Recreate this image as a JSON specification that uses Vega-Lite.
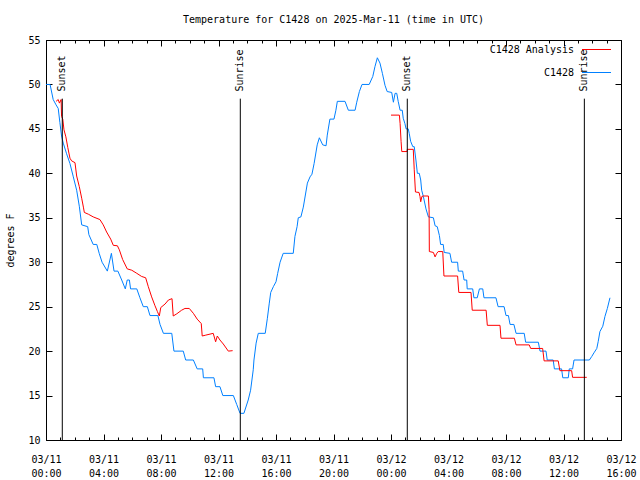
{
  "$schema": "https://vega.github.io/schema/vega-lite/v6.json",
  "width": 575,
  "height": 400,
  "autosize": {"type": "none"},
  "padding": {"left": 46, "top": 40, "right": 19, "bottom": 40},
  "background": "white",
  "title": {"text": "Temperature for C1428 on 2025-Mar-11 (time in UTC)", "font": "DejaVu Sans Mono", "fontSize": 10, "fontWeight": "normal", "offset": 10, "color": "black"},
  "config": {
    "font": "DejaVu Sans Mono",
    "view": {"stroke": "black", "strokeWidth": 1},
    "axis": {"domain": false, "grid": false, "labelFont": "DejaVu Sans Mono", "labelFontSize": 10, "labelColor": "black", "tickColor": "black", "tickWidth": 1, "titleFont": "DejaVu Sans Mono", "titleFontSize": 10, "titleFontWeight": "normal", "titleColor": "black"},
    "legend": {"labelFont": "DejaVu Sans Mono", "labelFontSize": 10, "labelColor": "black"}
  },
  "datasets": {
    "obs": [
      {"s": "C1428", "t": "2025-03-11T00:00:00Z", "v": 50}, {"s": "C1428", "t": "2025-03-11T00:17:00Z", "v": 50}, {"s": "C1428", "t": "2025-03-11T00:30:00Z", "v": 48.3}, {"s": "C1428", "t": "2025-03-11T00:42:00Z", "v": 47.7},
      {"s": "C1428", "t": "2025-03-11T00:51:00Z", "v": 47.3}, {"s": "C1428", "t": "2025-03-11T00:58:00Z", "v": 45.7}, {"s": "C1428", "t": "2025-03-11T01:05:00Z", "v": 44.2}, {"s": "C1428", "t": "2025-03-11T01:12:00Z", "v": 43.4},
      {"s": "C1428", "t": "2025-03-11T01:26:00Z", "v": 42.2}, {"s": "C1428", "t": "2025-03-11T01:40:00Z", "v": 41.1}, {"s": "C1428", "t": "2025-03-11T01:54:00Z", "v": 39.6}, {"s": "C1428", "t": "2025-03-11T02:08:00Z", "v": 38.1},
      {"s": "C1428", "t": "2025-03-11T02:19:00Z", "v": 36.3}, {"s": "C1428", "t": "2025-03-11T02:29:00Z", "v": 34.2}, {"s": "C1428", "t": "2025-03-11T02:54:00Z", "v": 34}, {"s": "C1428", "t": "2025-03-11T02:59:00Z", "v": 33.1},
      {"s": "C1428", "t": "2025-03-11T03:17:00Z", "v": 32}, {"s": "C1428", "t": "2025-03-11T03:32:00Z", "v": 32}, {"s": "C1428", "t": "2025-03-11T03:42:00Z", "v": 31}, {"s": "C1428", "t": "2025-03-11T03:54:00Z", "v": 30},
      {"s": "C1428", "t": "2025-03-11T04:16:00Z", "v": 29}, {"s": "C1428", "t": "2025-03-11T04:33:00Z", "v": 31}, {"s": "C1428", "t": "2025-03-11T04:44:00Z", "v": 29}, {"s": "C1428", "t": "2025-03-11T05:00:00Z", "v": 29},
      {"s": "C1428", "t": "2025-03-11T05:16:00Z", "v": 28}, {"s": "C1428", "t": "2025-03-11T05:31:00Z", "v": 27}, {"s": "C1428", "t": "2025-03-11T05:39:00Z", "v": 28}, {"s": "C1428", "t": "2025-03-11T05:48:00Z", "v": 28},
      {"s": "C1428", "t": "2025-03-11T05:53:00Z", "v": 27}, {"s": "C1428", "t": "2025-03-11T06:19:00Z", "v": 27}, {"s": "C1428", "t": "2025-03-11T06:32:00Z", "v": 26}, {"s": "C1428", "t": "2025-03-11T06:46:00Z", "v": 25},
      {"s": "C1428", "t": "2025-03-11T07:03:00Z", "v": 25}, {"s": "C1428", "t": "2025-03-11T07:14:00Z", "v": 24}, {"s": "C1428", "t": "2025-03-11T07:47:00Z", "v": 24}, {"s": "C1428", "t": "2025-03-11T07:56:00Z", "v": 23},
      {"s": "C1428", "t": "2025-03-11T08:10:00Z", "v": 22}, {"s": "C1428", "t": "2025-03-11T08:45:00Z", "v": 22}, {"s": "C1428", "t": "2025-03-11T08:54:00Z", "v": 20}, {"s": "C1428", "t": "2025-03-11T09:33:00Z", "v": 20},
      {"s": "C1428", "t": "2025-03-11T09:43:00Z", "v": 19}, {"s": "C1428", "t": "2025-03-11T10:15:00Z", "v": 19}, {"s": "C1428", "t": "2025-03-11T10:31:00Z", "v": 18}, {"s": "C1428", "t": "2025-03-11T10:54:00Z", "v": 18},
      {"s": "C1428", "t": "2025-03-11T10:57:00Z", "v": 17}, {"s": "C1428", "t": "2025-03-11T11:41:00Z", "v": 17}, {"s": "C1428", "t": "2025-03-11T11:48:00Z", "v": 16}, {"s": "C1428", "t": "2025-03-11T12:06:00Z", "v": 16},
      {"s": "C1428", "t": "2025-03-11T12:18:00Z", "v": 15}, {"s": "C1428", "t": "2025-03-11T13:02:00Z", "v": 15}, {"s": "C1428", "t": "2025-03-11T13:16:00Z", "v": 14}, {"s": "C1428", "t": "2025-03-11T13:30:00Z", "v": 13},
      {"s": "C1428", "t": "2025-03-11T13:46:00Z", "v": 13}, {"s": "C1428", "t": "2025-03-11T14:04:00Z", "v": 14.5}, {"s": "C1428", "t": "2025-03-11T14:14:00Z", "v": 15.6}, {"s": "C1428", "t": "2025-03-11T14:25:00Z", "v": 17.9},
      {"s": "C1428", "t": "2025-03-11T14:28:00Z", "v": 19}, {"s": "C1428", "t": "2025-03-11T14:37:00Z", "v": 20.9}, {"s": "C1428", "t": "2025-03-11T14:46:00Z", "v": 22}, {"s": "C1428", "t": "2025-03-11T15:15:00Z", "v": 22},
      {"s": "C1428", "t": "2025-03-11T15:24:00Z", "v": 23.7}, {"s": "C1428", "t": "2025-03-11T15:32:00Z", "v": 25.4}, {"s": "C1428", "t": "2025-03-11T15:38:00Z", "v": 26.6}, {"s": "C1428", "t": "2025-03-11T15:49:00Z", "v": 27.25},
      {"s": "C1428", "t": "2025-03-11T16:00:00Z", "v": 27.8}, {"s": "C1428", "t": "2025-03-11T16:07:00Z", "v": 28.75}, {"s": "C1428", "t": "2025-03-11T16:17:00Z", "v": 30}, {"s": "C1428", "t": "2025-03-11T16:30:00Z", "v": 31},
      {"s": "C1428", "t": "2025-03-11T17:12:00Z", "v": 31}, {"s": "C1428", "t": "2025-03-11T17:19:00Z", "v": 32.9}, {"s": "C1428", "t": "2025-03-11T17:28:00Z", "v": 34}, {"s": "C1428", "t": "2025-03-11T17:33:00Z", "v": 35},
      {"s": "C1428", "t": "2025-03-11T17:44:00Z", "v": 35.1}, {"s": "C1428", "t": "2025-03-11T17:54:00Z", "v": 36.2}, {"s": "C1428", "t": "2025-03-11T18:11:00Z", "v": 38.9}, {"s": "C1428", "t": "2025-03-11T18:22:00Z", "v": 39.6},
      {"s": "C1428", "t": "2025-03-11T18:30:00Z", "v": 39.9}, {"s": "C1428", "t": "2025-03-11T18:39:00Z", "v": 41.1}, {"s": "C1428", "t": "2025-03-11T18:52:00Z", "v": 43.2}, {"s": "C1428", "t": "2025-03-11T19:01:00Z", "v": 44},
      {"s": "C1428", "t": "2025-03-11T19:15:00Z", "v": 43.2}, {"s": "C1428", "t": "2025-03-11T19:29:00Z", "v": 43.1}, {"s": "C1428", "t": "2025-03-11T19:34:00Z", "v": 44.3}, {"s": "C1428", "t": "2025-03-11T19:45:00Z", "v": 46.1},
      {"s": "C1428", "t": "2025-03-11T20:02:00Z", "v": 46.1}, {"s": "C1428", "t": "2025-03-11T20:10:00Z", "v": 47.1}, {"s": "C1428", "t": "2025-03-11T20:16:00Z", "v": 48.1}, {"s": "C1428", "t": "2025-03-11T20:48:00Z", "v": 48.1},
      {"s": "C1428", "t": "2025-03-11T21:02:00Z", "v": 47.1}, {"s": "C1428", "t": "2025-03-11T21:30:00Z", "v": 47.1}, {"s": "C1428", "t": "2025-03-11T21:37:00Z", "v": 48}, {"s": "C1428", "t": "2025-03-11T21:48:00Z", "v": 49.2},
      {"s": "C1428", "t": "2025-03-11T21:59:00Z", "v": 50}, {"s": "C1428", "t": "2025-03-11T22:29:00Z", "v": 50}, {"s": "C1428", "t": "2025-03-11T22:44:00Z", "v": 50.9}, {"s": "C1428", "t": "2025-03-11T22:53:00Z", "v": 52},
      {"s": "C1428", "t": "2025-03-11T23:03:00Z", "v": 53}, {"s": "C1428", "t": "2025-03-11T23:14:00Z", "v": 52.4}, {"s": "C1428", "t": "2025-03-11T23:24:00Z", "v": 51.25}, {"s": "C1428", "t": "2025-03-11T23:35:00Z", "v": 49.9},
      {"s": "C1428", "t": "2025-03-11T23:44:00Z", "v": 49.2}, {"s": "C1428", "t": "2025-03-12T00:03:00Z", "v": 49.1}, {"s": "C1428", "t": "2025-03-12T00:10:00Z", "v": 48}, {"s": "C1428", "t": "2025-03-12T00:17:00Z", "v": 49},
      {"s": "C1428", "t": "2025-03-12T00:24:00Z", "v": 49}, {"s": "C1428", "t": "2025-03-12T00:30:00Z", "v": 48.1}, {"s": "C1428", "t": "2025-03-12T00:38:00Z", "v": 47.1}, {"s": "C1428", "t": "2025-03-12T00:47:00Z", "v": 47.1},
      {"s": "C1428", "t": "2025-03-12T00:51:00Z", "v": 46.2}, {"s": "C1428", "t": "2025-03-12T00:58:00Z", "v": 45.6}, {"s": "C1428", "t": "2025-03-12T01:03:00Z", "v": 45}, {"s": "C1428", "t": "2025-03-12T01:12:00Z", "v": 45},
      {"s": "C1428", "t": "2025-03-12T01:16:00Z", "v": 44.5}, {"s": "C1428", "t": "2025-03-12T01:22:00Z", "v": 43.6}, {"s": "C1428", "t": "2025-03-12T01:31:00Z", "v": 43}, {"s": "C1428", "t": "2025-03-12T01:37:00Z", "v": 43},
      {"s": "C1428", "t": "2025-03-12T01:44:00Z", "v": 41.5}, {"s": "C1428", "t": "2025-03-12T01:50:00Z", "v": 40}, {"s": "C1428", "t": "2025-03-12T01:58:00Z", "v": 40}, {"s": "C1428", "t": "2025-03-12T02:04:00Z", "v": 39.25},
      {"s": "C1428", "t": "2025-03-12T02:08:00Z", "v": 38.1}, {"s": "C1428", "t": "2025-03-12T02:15:00Z", "v": 37.4}, {"s": "C1428", "t": "2025-03-12T02:26:00Z", "v": 36}, {"s": "C1428", "t": "2025-03-12T02:36:00Z", "v": 35.1},
      {"s": "C1428", "t": "2025-03-12T02:57:00Z", "v": 35}, {"s": "C1428", "t": "2025-03-12T03:04:00Z", "v": 34.1}, {"s": "C1428", "t": "2025-03-12T03:13:00Z", "v": 34}, {"s": "C1428", "t": "2025-03-12T03:22:00Z", "v": 33},
      {"s": "C1428", "t": "2025-03-12T03:27:00Z", "v": 32}, {"s": "C1428", "t": "2025-03-12T03:38:00Z", "v": 32}, {"s": "C1428", "t": "2025-03-12T03:42:00Z", "v": 31.1}, {"s": "C1428", "t": "2025-03-12T04:06:00Z", "v": 31},
      {"s": "C1428", "t": "2025-03-12T04:13:00Z", "v": 30}, {"s": "C1428", "t": "2025-03-12T04:38:00Z", "v": 30}, {"s": "C1428", "t": "2025-03-12T04:41:00Z", "v": 29}, {"s": "C1428", "t": "2025-03-12T04:59:00Z", "v": 29},
      {"s": "C1428", "t": "2025-03-12T05:05:00Z", "v": 28}, {"s": "C1428", "t": "2025-03-12T05:16:00Z", "v": 28}, {"s": "C1428", "t": "2025-03-12T05:18:00Z", "v": 27}, {"s": "C1428", "t": "2025-03-12T05:41:00Z", "v": 27},
      {"s": "C1428", "t": "2025-03-12T05:46:00Z", "v": 26}, {"s": "C1428", "t": "2025-03-12T06:00:00Z", "v": 26}, {"s": "C1428", "t": "2025-03-12T06:09:00Z", "v": 27}, {"s": "C1428", "t": "2025-03-12T06:23:00Z", "v": 27},
      {"s": "C1428", "t": "2025-03-12T06:28:00Z", "v": 26}, {"s": "C1428", "t": "2025-03-12T07:18:00Z", "v": 26}, {"s": "C1428", "t": "2025-03-12T07:27:00Z", "v": 25}, {"s": "C1428", "t": "2025-03-12T07:52:00Z", "v": 25},
      {"s": "C1428", "t": "2025-03-12T08:00:00Z", "v": 24}, {"s": "C1428", "t": "2025-03-12T08:10:00Z", "v": 24}, {"s": "C1428", "t": "2025-03-12T08:17:00Z", "v": 23}, {"s": "C1428", "t": "2025-03-12T08:33:00Z", "v": 23},
      {"s": "C1428", "t": "2025-03-12T08:42:00Z", "v": 22}, {"s": "C1428", "t": "2025-03-12T09:16:00Z", "v": 22}, {"s": "C1428", "t": "2025-03-12T09:22:00Z", "v": 21}, {"s": "C1428", "t": "2025-03-12T10:15:00Z", "v": 21},
      {"s": "C1428", "t": "2025-03-12T10:22:00Z", "v": 20}, {"s": "C1428", "t": "2025-03-12T10:47:00Z", "v": 20}, {"s": "C1428", "t": "2025-03-12T10:52:00Z", "v": 19}, {"s": "C1428", "t": "2025-03-12T11:17:00Z", "v": 19},
      {"s": "C1428", "t": "2025-03-12T11:22:00Z", "v": 18}, {"s": "C1428", "t": "2025-03-12T11:52:00Z", "v": 18}, {"s": "C1428", "t": "2025-03-12T11:57:00Z", "v": 17}, {"s": "C1428", "t": "2025-03-12T12:20:00Z", "v": 17},
      {"s": "C1428", "t": "2025-03-12T12:24:00Z", "v": 18}, {"s": "C1428", "t": "2025-03-12T12:38:00Z", "v": 18}, {"s": "C1428", "t": "2025-03-12T12:44:00Z", "v": 19}, {"s": "C1428", "t": "2025-03-12T13:48:00Z", "v": 19},
      {"s": "C1428", "t": "2025-03-12T13:58:00Z", "v": 19.4}, {"s": "C1428", "t": "2025-03-12T14:07:00Z", "v": 19.8}, {"s": "C1428", "t": "2025-03-12T14:19:00Z", "v": 20.3}, {"s": "C1428", "t": "2025-03-12T14:25:00Z", "v": 21.1},
      {"s": "C1428", "t": "2025-03-12T14:32:00Z", "v": 22.2}, {"s": "C1428", "t": "2025-03-12T14:44:00Z", "v": 22.8}, {"s": "C1428", "t": "2025-03-12T14:53:00Z", "v": 23.9}, {"s": "C1428", "t": "2025-03-12T15:03:00Z", "v": 24.8},
      {"s": "C1428", "t": "2025-03-12T15:14:00Z", "v": 26}
    ],
    "ana": [
      {"s": "C1428 Analysis", "t": "2025-03-11T00:42:00Z", "v": 48.1, "seg": "a"}, {"s": "C1428 Analysis", "t": "2025-03-11T00:51:00Z", "v": 48.3, "seg": "a"}, {"s": "C1428 Analysis", "t": "2025-03-11T00:56:00Z", "v": 47.9, "seg": "a"},
      {"s": "C1428 Analysis", "t": "2025-03-11T01:03:00Z", "v": 48.3, "seg": "a"}, {"s": "C1428 Analysis", "t": "2025-03-11T01:05:00Z", "v": 46.4, "seg": "a"}, {"s": "C1428 Analysis", "t": "2025-03-11T01:10:00Z", "v": 46.1, "seg": "a"},
      {"s": "C1428 Analysis", "t": "2025-03-11T01:15:00Z", "v": 44.9, "seg": "a"}, {"s": "C1428 Analysis", "t": "2025-03-11T01:23:00Z", "v": 44.1, "seg": "a"}, {"s": "C1428 Analysis", "t": "2025-03-11T01:31:00Z", "v": 42.9, "seg": "a"},
      {"s": "C1428 Analysis", "t": "2025-03-11T01:40:00Z", "v": 41.7, "seg": "a"}, {"s": "C1428 Analysis", "t": "2025-03-11T01:47:00Z", "v": 41.4, "seg": "a"}, {"s": "C1428 Analysis", "t": "2025-03-11T02:01:00Z", "v": 41.2, "seg": "a"},
      {"s": "C1428 Analysis", "t": "2025-03-11T02:08:00Z", "v": 39.7, "seg": "a"}, {"s": "C1428 Analysis", "t": "2025-03-11T02:19:00Z", "v": 38.5, "seg": "a"}, {"s": "C1428 Analysis", "t": "2025-03-11T02:29:00Z", "v": 37.2, "seg": "a"},
      {"s": "C1428 Analysis", "t": "2025-03-11T02:36:00Z", "v": 36.2, "seg": "a"}, {"s": "C1428 Analysis", "t": "2025-03-11T02:40:00Z", "v": 35.6, "seg": "a"}, {"s": "C1428 Analysis", "t": "2025-03-11T02:57:00Z", "v": 35.4, "seg": "a"},
      {"s": "C1428 Analysis", "t": "2025-03-11T03:17:00Z", "v": 35.1, "seg": "a"}, {"s": "C1428 Analysis", "t": "2025-03-11T03:45:00Z", "v": 34.8, "seg": "a"}, {"s": "C1428 Analysis", "t": "2025-03-11T03:59:00Z", "v": 34.2, "seg": "a"},
      {"s": "C1428 Analysis", "t": "2025-03-11T04:13:00Z", "v": 33.4, "seg": "a"}, {"s": "C1428 Analysis", "t": "2025-03-11T04:30:00Z", "v": 32.6, "seg": "a"}, {"s": "C1428 Analysis", "t": "2025-03-11T04:41:00Z", "v": 31.9, "seg": "a"},
      {"s": "C1428 Analysis", "t": "2025-03-11T04:58:00Z", "v": 31.85, "seg": "a"}, {"s": "C1428 Analysis", "t": "2025-03-11T05:06:00Z", "v": 31.4, "seg": "a"}, {"s": "C1428 Analysis", "t": "2025-03-11T05:20:00Z", "v": 30.3, "seg": "a"},
      {"s": "C1428 Analysis", "t": "2025-03-11T05:39:00Z", "v": 29.25, "seg": "a"}, {"s": "C1428 Analysis", "t": "2025-03-11T05:58:00Z", "v": 29.1, "seg": "a"}, {"s": "C1428 Analysis", "t": "2025-03-11T06:19:00Z", "v": 28.75, "seg": "a"},
      {"s": "C1428 Analysis", "t": "2025-03-11T06:39:00Z", "v": 28.4, "seg": "a"}, {"s": "C1428 Analysis", "t": "2025-03-11T06:56:00Z", "v": 28.25, "seg": "a"}, {"s": "C1428 Analysis", "t": "2025-03-11T07:07:00Z", "v": 27.25, "seg": "a"},
      {"s": "C1428 Analysis", "t": "2025-03-11T07:21:00Z", "v": 26.1, "seg": "a"}, {"s": "C1428 Analysis", "t": "2025-03-11T07:35:00Z", "v": 25.1, "seg": "a"}, {"s": "C1428 Analysis", "t": "2025-03-11T07:45:00Z", "v": 24.45, "seg": "a"},
      {"s": "C1428 Analysis", "t": "2025-03-11T07:53:00Z", "v": 23.95, "seg": "a"}, {"s": "C1428 Analysis", "t": "2025-03-11T07:59:00Z", "v": 24.9, "seg": "a"}, {"s": "C1428 Analysis", "t": "2025-03-11T08:17:00Z", "v": 25.3, "seg": "a"},
      {"s": "C1428 Analysis", "t": "2025-03-11T08:31:00Z", "v": 25.75, "seg": "a"}, {"s": "C1428 Analysis", "t": "2025-03-11T08:46:00Z", "v": 25.9, "seg": "a"}, {"s": "C1428 Analysis", "t": "2025-03-11T08:51:00Z", "v": 23.95, "seg": "a"},
      {"s": "C1428 Analysis", "t": "2025-03-11T09:06:00Z", "v": 24.2, "seg": "a"}, {"s": "C1428 Analysis", "t": "2025-03-11T09:26:00Z", "v": 24.6, "seg": "a"}, {"s": "C1428 Analysis", "t": "2025-03-11T09:40:00Z", "v": 24.8, "seg": "a"},
      {"s": "C1428 Analysis", "t": "2025-03-11T09:58:00Z", "v": 24.8, "seg": "a"}, {"s": "C1428 Analysis", "t": "2025-03-11T10:15:00Z", "v": 24.25, "seg": "a"}, {"s": "C1428 Analysis", "t": "2025-03-11T10:31:00Z", "v": 23.6, "seg": "a"},
      {"s": "C1428 Analysis", "t": "2025-03-11T10:48:00Z", "v": 23.1, "seg": "a"}, {"s": "C1428 Analysis", "t": "2025-03-11T10:52:00Z", "v": 21.7, "seg": "a"}, {"s": "C1428 Analysis", "t": "2025-03-11T11:07:00Z", "v": 21.8, "seg": "a"},
      {"s": "C1428 Analysis", "t": "2025-03-11T11:38:00Z", "v": 22, "seg": "a"}, {"s": "C1428 Analysis", "t": "2025-03-11T11:48:00Z", "v": 21.05, "seg": "a"}, {"s": "C1428 Analysis", "t": "2025-03-11T11:55:00Z", "v": 21.7, "seg": "a"},
      {"s": "C1428 Analysis", "t": "2025-03-11T12:06:00Z", "v": 21.25, "seg": "a"}, {"s": "C1428 Analysis", "t": "2025-03-11T12:20:00Z", "v": 20.8, "seg": "a"}, {"s": "C1428 Analysis", "t": "2025-03-11T12:41:00Z", "v": 20, "seg": "a"},
      {"s": "C1428 Analysis", "t": "2025-03-11T12:59:00Z", "v": 20.05, "seg": "a"},
      {"s": "C1428 Analysis", "t": "2025-03-12T00:00:00Z", "v": 46.55, "seg": "b"}, {"s": "C1428 Analysis", "t": "2025-03-12T00:35:00Z", "v": 46.55, "seg": "b"}, {"s": "C1428 Analysis", "t": "2025-03-12T00:38:00Z", "v": 45.6, "seg": "b"},
      {"s": "C1428 Analysis", "t": "2025-03-12T00:42:00Z", "v": 43.6, "seg": "b"}, {"s": "C1428 Analysis", "t": "2025-03-12T00:45:00Z", "v": 42.45, "seg": "b"}, {"s": "C1428 Analysis", "t": "2025-03-12T01:07:00Z", "v": 42.45, "seg": "b"},
      {"s": "C1428 Analysis", "t": "2025-03-12T01:08:00Z", "v": 42.7, "seg": "b"}, {"s": "C1428 Analysis", "t": "2025-03-12T01:33:00Z", "v": 42.7, "seg": "b"}, {"s": "C1428 Analysis", "t": "2025-03-12T01:37:00Z", "v": 40.4, "seg": "b"},
      {"s": "C1428 Analysis", "t": "2025-03-12T01:42:00Z", "v": 37.9, "seg": "b"}, {"s": "C1428 Analysis", "t": "2025-03-12T01:57:00Z", "v": 37.85, "seg": "b"}, {"s": "C1428 Analysis", "t": "2025-03-12T02:01:00Z", "v": 37.4, "seg": "b"},
      {"s": "C1428 Analysis", "t": "2025-03-12T02:04:00Z", "v": 36.8, "seg": "b"}, {"s": "C1428 Analysis", "t": "2025-03-12T02:09:00Z", "v": 37.4, "seg": "b"}, {"s": "C1428 Analysis", "t": "2025-03-12T02:15:00Z", "v": 37.45, "seg": "b"},
      {"s": "C1428 Analysis", "t": "2025-03-12T02:36:00Z", "v": 37.45, "seg": "b"}, {"s": "C1428 Analysis", "t": "2025-03-12T02:39:00Z", "v": 35.9, "seg": "b"}, {"s": "C1428 Analysis", "t": "2025-03-12T02:40:00Z", "v": 31.2, "seg": "b"},
      {"s": "C1428 Analysis", "t": "2025-03-12T02:57:00Z", "v": 31.1, "seg": "b"}, {"s": "C1428 Analysis", "t": "2025-03-12T03:04:00Z", "v": 30.6, "seg": "b"}, {"s": "C1428 Analysis", "t": "2025-03-12T03:11:00Z", "v": 31, "seg": "b"},
      {"s": "C1428 Analysis", "t": "2025-03-12T03:17:00Z", "v": 31.2, "seg": "b"}, {"s": "C1428 Analysis", "t": "2025-03-12T03:36:00Z", "v": 31.2, "seg": "b"}, {"s": "C1428 Analysis", "t": "2025-03-12T03:41:00Z", "v": 28.45, "seg": "b"},
      {"s": "C1428 Analysis", "t": "2025-03-12T04:38:00Z", "v": 28.45, "seg": "b"}, {"s": "C1428 Analysis", "t": "2025-03-12T04:43:00Z", "v": 26.6, "seg": "b"}, {"s": "C1428 Analysis", "t": "2025-03-12T05:34:00Z", "v": 26.6, "seg": "b"},
      {"s": "C1428 Analysis", "t": "2025-03-12T05:39:00Z", "v": 24.6, "seg": "b"}, {"s": "C1428 Analysis", "t": "2025-03-12T06:37:00Z", "v": 24.6, "seg": "b"}, {"s": "C1428 Analysis", "t": "2025-03-12T06:42:00Z", "v": 22.9, "seg": "b"},
      {"s": "C1428 Analysis", "t": "2025-03-12T07:35:00Z", "v": 22.9, "seg": "b"}, {"s": "C1428 Analysis", "t": "2025-03-12T07:39:00Z", "v": 21.45, "seg": "b"}, {"s": "C1428 Analysis", "t": "2025-03-12T08:35:00Z", "v": 21.45, "seg": "b"},
      {"s": "C1428 Analysis", "t": "2025-03-12T08:42:00Z", "v": 20.7, "seg": "b"}, {"s": "C1428 Analysis", "t": "2025-03-12T09:37:00Z", "v": 20.7, "seg": "b"}, {"s": "C1428 Analysis", "t": "2025-03-12T09:43:00Z", "v": 20.3, "seg": "b"},
      {"s": "C1428 Analysis", "t": "2025-03-12T10:33:00Z", "v": 20.3, "seg": "b"}, {"s": "C1428 Analysis", "t": "2025-03-12T10:39:00Z", "v": 18.9, "seg": "b"}, {"s": "C1428 Analysis", "t": "2025-03-12T11:38:00Z", "v": 18.9, "seg": "b"},
      {"s": "C1428 Analysis", "t": "2025-03-12T11:45:00Z", "v": 17.8, "seg": "b"}, {"s": "C1428 Analysis", "t": "2025-03-12T12:34:00Z", "v": 17.8, "seg": "b"}, {"s": "C1428 Analysis", "t": "2025-03-12T12:38:00Z", "v": 17.05, "seg": "b"},
      {"s": "C1428 Analysis", "t": "2025-03-12T13:37:00Z", "v": 17.05, "seg": "b"}
    ],
    "sun": [
      {"t": "2025-03-11T01:08:00Z", "label": "Sunset"},
      {"t": "2025-03-11T13:31:00Z", "label": "Sunrise"},
      {"t": "2025-03-12T01:08:00Z", "label": "Sunset"},
      {"t": "2025-03-12T13:27:00Z", "label": "Sunrise"}
    ]
  },
  "layer": [
    {
      "data": {"name": "obs"},
      "mark": {"type": "line", "strokeWidth": 1},
      "encoding": {
        "x": {"field": "t", "type": "temporal",
              "scale": {"type": "utc", "domain": [1741651200000, 1741795200000]},
              "axis": {"orient": "bottom", "title": null,
                       "values": [1741651200000, 1741654800000, 1741658400000, 1741662000000, 1741665600000, 1741669200000, 1741672800000, 1741676400000, 1741680000000, 1741683600000, 1741687200000, 1741690800000, 1741694400000, 1741698000000, 1741701600000, 1741705200000, 1741708800000, 1741712400000, 1741716000000, 1741719600000, 1741723200000, 1741726800000, 1741730400000, 1741734000000, 1741737600000, 1741741200000, 1741744800000, 1741748400000, 1741752000000, 1741755600000, 1741759200000, 1741762800000, 1741766400000, 1741770000000, 1741773600000, 1741777200000, 1741780800000, 1741784400000, 1741788000000, 1741791600000, 1741795200000],
                       "tickSize": -3, "labelPadding": 17,
                       "labelExpr": "utchours(datum.value) % 4 == 0 ? utcFormat(datum.value, '%m/%d') : ''",
                       "labelFlush": false, "labelOverlap": false}},
        "y": {"field": "v", "type": "quantitative",
              "scale": {"domain": [10, 55], "nice": false, "zero": false},
              "axis": {"orient": "left", "values": [10, 15, 20, 25, 30, 35, 40, 45, 50, 55], "tickSize": -6, "labelPadding": 12,
                       "title": "degrees F", "titleX": -33, "titleY": 200, "titleAngle": -90, "titleBaseline": "alphabetic", "titleAlign": "center"}},
        "color": {"field": "s", "type": "nominal",
                  "scale": {"domain": ["C1428 Analysis", "C1428"], "range": ["#ff0000", "#0080ff"]},
                  "legend": {"title": null, "orient": "none", "legendX": 535.5, "legendY": -5.5, "direction": "vertical", "padding": 0,
                             "symbolType": "stroke", "symbolSize": 841, "symbolStrokeWidth": 1,
                             "labelAlign": "right", "labelOffset": -37.5, "rowPadding": 3}}
      }
    },
    {
      "data": {"name": "ana"},
      "mark": {"type": "line", "strokeWidth": 1},
      "encoding": {
        "x": {"field": "t", "type": "temporal", "scale": {"type": "utc", "domain": [1741651200000, 1741795200000]},
              "axis": {"orient": "bottom", "title": null,
                       "values": [1741651200000, 1741665600000, 1741680000000, 1741694400000, 1741708800000, 1741723200000, 1741737600000, 1741752000000, 1741766400000, 1741780800000, 1741795200000],
                       "tickSize": -6, "labelPadding": 34, "format": "%H:%M", "labelFlush": false, "labelOverlap": false}},
        "y": {"field": "v", "type": "quantitative", "scale": {"domain": [10, 55], "nice": false, "zero": false},
              "axis": {"orient": "right", "values": [10, 15, 20, 25, 30, 35, 40, 45, 50, 55], "tickSize": -6, "labels": false, "title": null}},
        "detail": {"field": "seg"},
        "color": {"field": "s", "type": "nominal"}
      }
    },
    {
      "data": {"name": "sun"},
      "mark": {"type": "rule", "color": "black", "strokeWidth": 1},
      "encoding": {
        "x": {"field": "t", "type": "temporal", "scale": {"type": "utc", "domain": [1741651200000, 1741795200000]},
              "axis": {"orient": "top", "title": null,
                       "values": [1741651200000, 1741654800000, 1741658400000, 1741662000000, 1741665600000, 1741669200000, 1741672800000, 1741676400000, 1741680000000, 1741683600000, 1741687200000, 1741690800000, 1741694400000, 1741698000000, 1741701600000, 1741705200000, 1741708800000, 1741712400000, 1741716000000, 1741719600000, 1741723200000, 1741726800000, 1741730400000, 1741734000000, 1741737600000, 1741741200000, 1741744800000, 1741748400000, 1741752000000, 1741755600000, 1741759200000, 1741762800000, 1741766400000, 1741770000000, 1741773600000, 1741777200000, 1741780800000, 1741784400000, 1741788000000, 1741791600000, 1741795200000],
                       "tickSize": -3, "labels": false}},
        "y": {"datum": 48.4, "type": "quantitative", "scale": {"domain": [10, 55], "nice": false, "zero": false}, "axis": null},
        "y2": {"datum": 10}
      }
    },
    {
      "data": {"name": "sun"},
      "mark": {"type": "text", "angle": 270, "align": "left", "baseline": "middle", "font": "DejaVu Sans Mono", "fontSize": 10, "color": "black"},
      "encoding": {
        "x": {"field": "t", "type": "temporal", "scale": {"type": "utc", "domain": [1741651200000, 1741795200000]},
              "axis": {"orient": "top", "title": null,
                       "values": [1741651200000, 1741665600000, 1741680000000, 1741694400000, 1741708800000, 1741723200000, 1741737600000, 1741752000000, 1741766400000, 1741780800000, 1741795200000],
                       "tickSize": -6, "labels": false}},
        "y": {"datum": 49.2, "type": "quantitative", "scale": {"domain": [10, 55], "nice": false, "zero": false}, "axis": null},
        "text": {"field": "label"}
      }
    }
  ],
  "resolve": {"axis": {"x": "independent", "y": "independent"}}
}
